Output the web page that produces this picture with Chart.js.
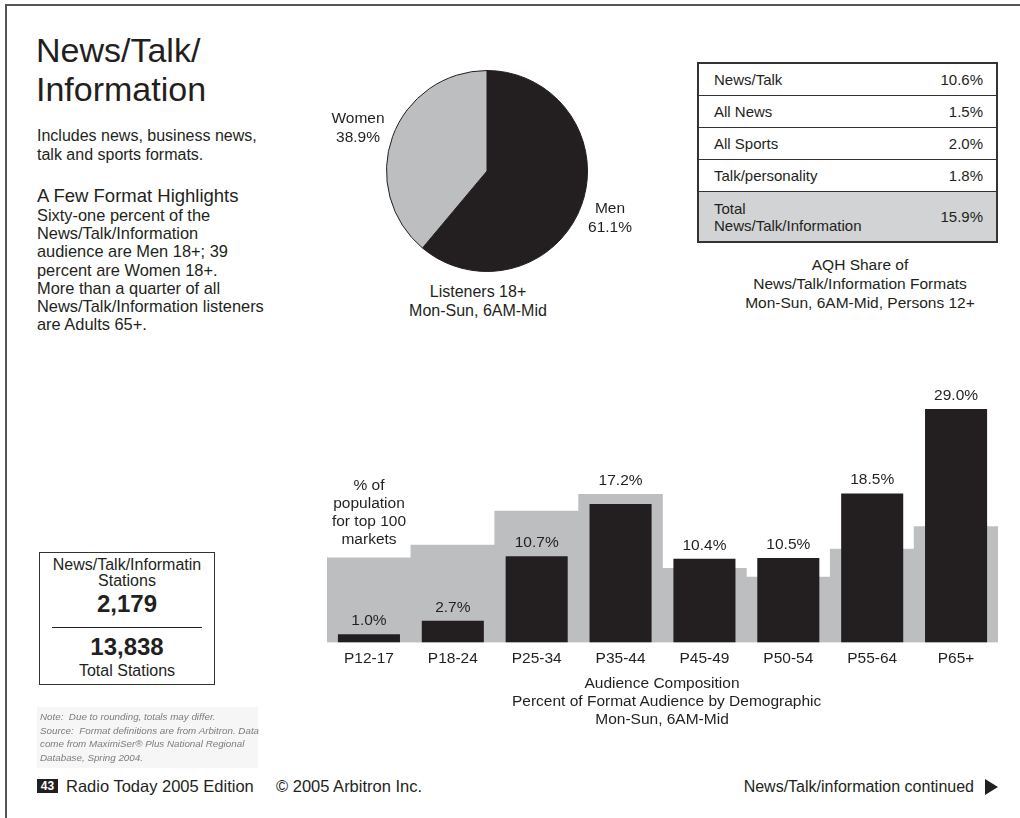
<!DOCTYPE html>
<html>
<head>
<meta charset="utf-8">
<script src="https://cdn.jsdelivr.net/npm/chart.js@4.4.1/dist/chart.umd.min.js"></script>
<style>
  html, body { margin: 0; padding: 0; background: #fff; }
  body { width: 1020px; height: 818px; position: relative; overflow: hidden;
         font-family: "Liberation Sans", Arial, Helvetica, sans-serif; color: #231f20; }
  .abs { position: absolute; white-space: nowrap; }
  .frame { position: absolute; left: 5px; top: 4px; width: 1020px; height: 820px;
           border-top: 2px solid #555; border-left: 2px solid #555; }
  #title { left: 36px; top: 31px; font-size: 34px; line-height: 39px; }
  #intro { left: 37px; top: 126px; font-size: 16px; line-height: 19.3px; }
  #highHead { left: 37px; top: 186px; font-size: 18.5px; line-height: 20px; }
  #highText { left: 37px; top: 206px; font-size: 16.4px; line-height: 18.2px; }
  .pieLbl { font-size: 15.5px; line-height: 19px; text-align: center; width: 120px; }
  #pieCanvas { position: absolute; left: 386px; top: 70px; }
  #barCanvas { position: absolute; left: 327px; top: 380px; }
  #aqh { position: absolute; left: 697px; top: 62px; width: 301px; border-collapse: collapse;
         border: 2px solid #333; font-size: 15px; }
  #aqh td { border-top: 1px solid #333; padding: 0 13px 0 15px; height: 31px; line-height: 17px; }
  #aqh td.v { text-align: right; }
  #aqh tr.total td { background: #d1d3d4; height: 49px; }
  .cap { font-size: 15.5px; line-height: 19.2px; text-align: center; width: 300px; }
  #stations { position: absolute; left: 39px; top: 552px; width: 174px; height: 131px;
              border: 1.5px solid #333; }
  .st { position: absolute; left: 0; width: 174px; text-align: center; }
  #note { position: absolute; left: 37px; top: 707px; width: 221px; height: 61px; background: #f6f6f6; }
  #noteText { left: 3px; top: 3px; font-size: 9.8px; line-height: 13.7px; font-style: italic;
              color: #7c7c7c; filter: blur(0.35px); }
  #pg { left: 37px; top: 779px; width: 21px; height: 14px; background: #231f20; color: #fff;
        font-weight: bold; font-size: 12px; line-height: 14px; text-align: center; }
  .foot { font-size: 16.5px; line-height: 20px; top: 776px; }
  #cont { right: 46px; top: 777px; font-size: 16px; line-height: 20px; }
  #tri { position: absolute; left: 985px; top: 779px; width: 0; height: 0;
         border-left: 13px solid #231f20; border-top: 8.5px solid transparent; border-bottom: 8.5px solid transparent; }
</style>
</head>
<body>
<div class="frame"></div>

<div class="abs" id="title">News/Talk/<br>Information</div>
<div class="abs" id="intro">Includes news, business news,<br>talk and sports formats.</div>
<div class="abs" id="highHead">A Few Format Highlights</div>
<div class="abs" id="highText">Sixty-one percent of the<br>News/Talk/Information<br>audience are Men 18+; 39<br>percent are Women 18+.<br>More than a quarter of all<br>News/Talk/Information listeners<br>are Adults 65+.</div>

<canvas id="pieCanvas" width="202" height="202"></canvas>
<div class="abs pieLbl" id="womenLbl" style="left:298px; top:108px;"></div>
<div class="abs pieLbl" id="menLbl" style="left:550px; top:198px;"></div>
<div class="abs pieLbl" style="left:408px; top:283px; width:140px; font-size:16px; line-height:18.5px;">Listeners 18+<br>Mon-Sun, 6AM-Mid</div>

<table id="aqh"></table>
<div class="abs cap" style="left:710px; top:255px;">AQH Share of<br>News/Talk/Information Formats<br>Mon-Sun, 6AM-Mid, Persons 12+</div>

<canvas id="barCanvas" width="671" height="295"></canvas>
<div class="abs" style="left:309px; top:476px; width:120px; text-align:center; font-size:15.5px; line-height:18px;">% of<br>population<br>for top 100<br>markets</div>
<div class="abs cap" style="left:512px; top:674px; line-height:18.2px;">Audience Composition<br>Percent of Format Audience by Demographic<br>Mon-Sun, 6AM-Mid</div>

<div id="stations">
  <div class="st" style="top:4px; font-size:16px; line-height:16px;">News/Talk/Informatin</div>
  <div class="st" style="top:20px; font-size:16px; line-height:16px;">Stations</div>
  <div class="st" id="fmtStations" style="top:39px; font-size:24px; line-height:24px; font-weight:bold;"></div>
  <div style="position:absolute; left:12px; top:74px; width:150px; border-top:1px solid #231f20;"></div>
  <div class="st" id="allStations" style="top:82px; font-size:24px; line-height:24px; font-weight:bold;"></div>
  <div class="st" style="top:110px; font-size:16px; line-height:16px;">Total Stations</div>
</div>

<div id="note"><div class="abs" id="noteText">Note:&nbsp; Due to rounding, totals may differ.<br>Source:&nbsp; Format definitions are from Arbitron. Data<br>come from MaximiSer® Plus National Regional<br>Database, Spring 2004.</div></div>

<div class="abs" id="pg">43</div>
<div class="abs foot" style="left:66px;">Radio Today 2005 Edition</div>
<div class="abs foot" style="left:276px;">© 2005 Arbitron Inc.</div>
<div class="abs" id="cont">News/Talk/information continued</div>
<div id="tri"></div>

<script>
// Gender split of listeners 18+
const genderLabels = ["Men", "Women"];
const genderShare = [61.1, 38.9];

// AQH share table
const formatNames = ["News/Talk", "All News", "All Sports", "Talk/personality"];
const formatAqh = [10.6, 1.5, 2.0, 1.8];
const totalName = "Total<br>News/Talk/Information";
const totalAqh = 15.9;

// Audience composition
const demoLabels = ["P12-17", "P18-24", "P25-34", "P35-44", "P45-49", "P50-54", "P55-64", "P65+"];
const formatShare = [1.0, 2.7, 10.7, 17.2, 10.4, 10.5, 18.5, 29.0];
const populationShare = [10.5, 12.1, 16.3, 18.4, 9.2, 8.1, 11.6, 14.4];

// Station counts
const formatStations = 2179;
const totalStations = 13838;

const ink = "#231f20";
const grey = "#bcbec0";

Chart.defaults.font.family = '"Liberation Sans", Arial, Helvetica, sans-serif';
Chart.defaults.color = ink;

//Labels and table
document.getElementById("menLbl").innerHTML = genderLabels[0] + "<br>" + genderShare[0].toFixed(1) + "%";
document.getElementById("womenLbl").innerHTML = genderLabels[1] + "<br>" + genderShare[1].toFixed(1) + "%";
document.getElementById("fmtStations").textContent = formatStations.toLocaleString("en-US");
document.getElementById("allStations").textContent = totalStations.toLocaleString("en-US");

const table = document.getElementById("aqh");
let rows = "";
for (let i = 0; i < formatNames.length; i++) {
    rows += `<tr><td>${formatNames[i]}</td><td class="v">${formatAqh[i].toFixed(1)}%</td></tr>`;
}
rows += `<tr class="total"><td>${totalName}</td><td class="v">${totalAqh.toFixed(1)}%</td></tr>`;
table.innerHTML = rows;

//Pie
new Chart(document.getElementById("pieCanvas"), {
    type: "pie",
    data: {
        labels: genderLabels,
        datasets: [{
            data: genderShare,
            backgroundColor: [ink, grey],
            borderColor: ink,
            borderWidth: 1
        }]
    },
    options: {
        responsive: false,
        animation: false,
        plugins: { legend: { display: false }, tooltip: { enabled: false } }
    }
});

//Value labels over the black bars
const valueLabels = {
    id: "valueLabels",
    afterDatasetsDraw(chart) {
        const ctx = chart.ctx;
        const bars = chart.getDatasetMeta(0).data;
        const back = chart.getDatasetMeta(1).data;
        ctx.save();
        ctx.font = '15.5px "Liberation Sans", Arial, sans-serif';
        ctx.fillStyle = ink;
        ctx.textAlign = "center";
        ctx.textBaseline = "alphabetic";
        bars.forEach((bar, i) => {
            let top = bar.y;
            // push the label over the grey block when it sits just above the bar
            if (back[i].y < bar.y && bar.y - back[i].y < 20) top = back[i].y;
            ctx.fillText(formatShare[i].toFixed(1) + "%", bar.x, top - 9);
        });
        ctx.restore();
    }
};

new Chart(document.getElementById("barCanvas"), {
    type: "bar",
    data: {
        labels: demoLabels,
        datasets: [{
            label: "Format audience",
            data: formatShare,
            backgroundColor: ink,
            barPercentage: 0.74,
            categoryPercentage: 1
        }, {
            label: "Population",
            data: populationShare,
            backgroundColor: grey,
            barPercentage: 1,
            categoryPercentage: 1
        }]
    },
    options: {
        responsive: false,
        animation: false,
        layout: { padding: 0 },
        scales: {
            x: {
                stacked: true,
                grid: { display: false, drawTicks: false },
                border: { display: false },
                ticks: { font: { size: 15.5 }, padding: 7, color: ink }
            },
            y: { display: false, min: 0, max: 32.6 }
        },
        plugins: { legend: { display: false }, tooltip: { enabled: false } }
    },
    plugins: [valueLabels]
});
</script>
</body>
</html>
